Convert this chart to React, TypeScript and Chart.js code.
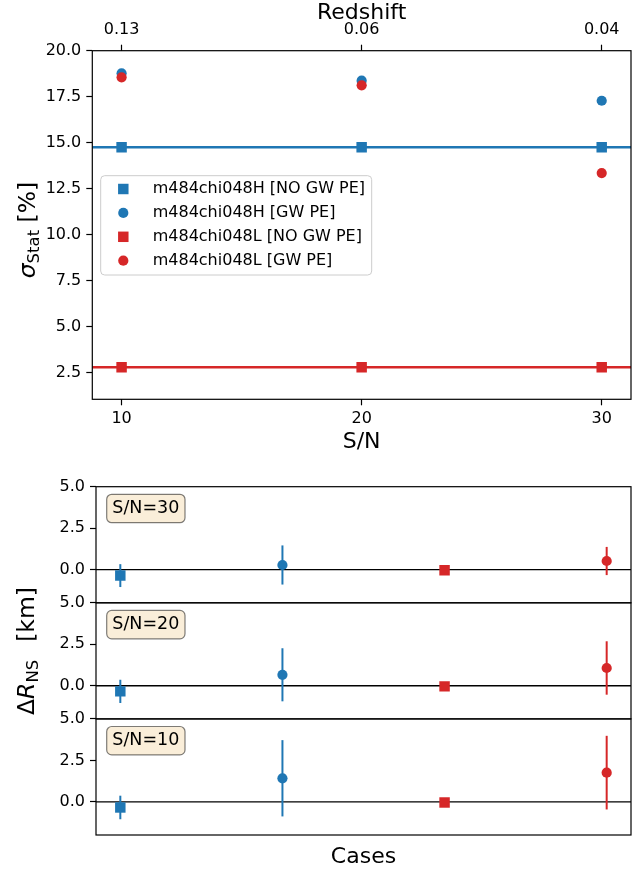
import React, { useEffect, useRef } from 'react';
import { Chart, registerables } from 'chart.js';

Chart.register(...registerables);

const FONT = "'DejaVu Sans', sans-serif";
const BLUE = '#1f77b4';
const RED = '#d62728';

// ---------- top panel data ----------
const snrValues = [10, 20, 30];
const redshiftLabels = ['0.13', '0.06', '0.04'];
const sigmaTicks = [2.5, 5, 7.5, 10, 12.5, 15, 17.5, 20];
const seriesNames = [
  'm484chi048H [NO GW PE]',
  'm484chi048H [GW PE]',
  'm484chi048L [NO GW PE]',
  'm484chi048L [GW PE]',
];
const sigmaHNoGw = [14.75, 14.75, 14.75];
const sigmaHGw = [18.77, 18.37, 17.28];
const sigmaLNoGw = [2.79, 2.79, 2.79];
const sigmaLGw = [18.55, 18.12, 13.35];

// ---------- bottom panels data ----------
const caseIndex = [0, 1, 2, 3];
const panelSnr = [30, 20, 10];
const deltaR30 = [-0.36, 0.28, -0.04, 0.52];
const deltaR30Err = [0.69, 1.18, 0.05, 0.85];
const deltaR20 = [-0.34, 0.66, -0.04, 1.07];
const deltaR20Err = [0.7, 1.6, 0.05, 1.61];
const deltaR10 = [-0.34, 1.42, -0.04, 1.76];
const deltaR10Err = [0.71, 2.3, 0.05, 2.22];
const deltaTicks = [0, 2.5, 5];

// ---------- styles ----------
const seriesColors = [BLUE, BLUE, RED, RED];
const seriesShapes = ['rect', 'circle', 'rect', 'circle'];
const RECT_R = 7.4;
const CIRC_R = 5.1;
const radiusFor = (s: string) => (s === 'rect' ? RECT_R : CIRC_R);

Chart.defaults.font.family = FONT;
Chart.defaults.color = '#000';

const tickFont = { family: FONT, size: 16, lineHeight: 1.2 };
const titleFont = { family: FONT, size: 22, lineHeight: 1 };

const gridOpts = () => ({
  display: true,
  drawOnChartArea: false,
  drawTicks: true,
  tickLength: 6,
  tickWidth: 1.2,
  tickColor: '#000',
  color: '#000',
});

function drawMarker(ctx: CanvasRenderingContext2D, shape: string, x: number, y: number, color: string) {
  ctx.fillStyle = color;
  ctx.beginPath();
  if (shape === 'rect') {
    const s = Math.SQRT1_2 * RECT_R;
    ctx.rect(x - s, y - s, 2 * s, 2 * s);
  } else {
    ctx.arc(x, y, CIRC_R, 0, Math.PI * 2);
  }
  ctx.fill();
}

type Part = { text: string; font: string; shift?: number; gap?: number };
function drawRotated(ctx: CanvasRenderingContext2D, parts: Part[], xBase: number, yCenter: number) {
  ctx.save();
  const widths = parts.map((p) => {
    ctx.font = p.font;
    return ctx.measureText(p.text).width;
  });
  const total = widths.reduce((a, w, i) => a + w + (i < parts.length - 1 ? parts[i].gap || 0 : 0), 0);
  ctx.translate(xBase, yCenter);
  ctx.rotate(-Math.PI / 2);
  ctx.fillStyle = '#000';
  ctx.textAlign = 'left';
  ctx.textBaseline = 'alphabetic';
  let cx = -total / 2;
  parts.forEach((p, i) => {
    ctx.font = p.font;
    ctx.fillText(p.text, cx, p.shift || 0);
    cx += widths[i] + (p.gap || 0);
  });
  ctx.restore();
}

const framePlugin = {
  id: 'frame',
  afterDraw(chart: any) {
    const { ctx, chartArea: a } = chart;
    ctx.save();
    ctx.strokeStyle = '#000';
    ctx.lineWidth = 1.2;
    ctx.strokeRect(a.left, a.top, a.right - a.left, a.bottom - a.top);
    ctx.restore();
  },
};

const levelLinesPlugin = {
  id: 'levelLines',
  beforeDatasetsDraw(chart: any) {
    const { ctx, chartArea: a, scales } = chart;
    const levels = [
      { v: sigmaHNoGw[0], c: BLUE },
      { v: sigmaLNoGw[0], c: RED },
    ];
    ctx.save();
    levels.forEach((l) => {
      const y = scales.y.getPixelForValue(l.v);
      ctx.strokeStyle = l.c;
      ctx.lineWidth = 2.6;
      ctx.beginPath();
      ctx.moveTo(a.left, y);
      ctx.lineTo(a.right, y);
      ctx.stroke();
    });
    ctx.restore();
  },
};

const boxLegendPlugin = {
  id: 'boxLegend',
  afterDatasetsDraw(chart: any) {
    const ctx: CanvasRenderingContext2D = chart.ctx;
    const x0 = 100.7, y0 = 175.7, w = 271, h = 99.3;
    ctx.save();
    ctx.beginPath();
    ctx.roundRect(x0, y0, w, h, 4);
    ctx.fillStyle = 'rgba(255,255,255,0.8)';
    ctx.fill();
    ctx.strokeStyle = '#cccccc';
    ctx.lineWidth = 1;
    ctx.stroke();
    ctx.font = `16px ${FONT}`;
    ctx.textBaseline = 'middle';
    ctx.textAlign = 'left';
    chart.data.datasets.forEach((ds: any, i: number) => {
      const cy = y0 + 13.3 + i * 23.9;
      drawMarker(ctx, seriesShapes[i], 123.3, cy, seriesColors[i]);
      ctx.fillStyle = '#000';
      ctx.fillText(ds.label, 152.7, cy);
    });
    ctx.restore();
  },
};

const topYLabelPlugin = {
  id: 'topYLabel',
  afterDraw(chart: any) {
    drawRotated(
      chart.ctx,
      [
        { text: 'σ', font: `italic 23.5px ${FONT}` },
        { text: 'Stat', font: `16.5px ${FONT}`, shift: 3.8, gap: 0 },
        { text: ' [%]', font: `23.5px ${FONT}` },
      ],
      35,
      230
    );
  },
};

const bottomYLabelPlugin = {
  id: 'bottomYLabel',
  afterDraw(chart: any) {
    // drawn in canvas coordinates of the middle panel (canvas top = 570)
    drawRotated(
      chart.ctx,
      [
        { text: 'Δ', font: `23.5px ${FONT}` },
        { text: 'R', font: `italic 23.5px ${FONT}` },
        { text: 'NS', font: `16.5px ${FONT}`, shift: 3.8, gap: 18 },
        { text: '[km]', font: `23.5px ${FONT}` },
      ],
      34,
      651 - 570
    );
  },
};

const zeroLinePlugin = {
  id: 'zeroLine',
  beforeDatasetsDraw(chart: any) {
    const { ctx, chartArea: a, scales } = chart;
    const y = scales.y.getPixelForValue(0);
    ctx.save();
    ctx.strokeStyle = '#000';
    ctx.lineWidth = 1.3;
    ctx.beginPath();
    ctx.moveTo(a.left, y);
    ctx.lineTo(a.right, y);
    ctx.stroke();
    ctx.restore();
  },
};

const errorBarPlugin = {
  id: 'errorBars',
  beforeDatasetsDraw(chart: any) {
    const { ctx, scales } = chart;
    ctx.save();
    ctx.lineWidth = 2;
    chart.data.datasets.forEach((ds: any) => {
      ds.data.forEach((p: any, i: number) => {
        const e = ds.errors[i];
        const x = scales.x.getPixelForValue(p.x);
        ctx.strokeStyle = seriesColors[i];
        ctx.beginPath();
        ctx.moveTo(x, scales.y.getPixelForValue(p.y - e));
        ctx.lineTo(x, scales.y.getPixelForValue(p.y + e));
        ctx.stroke();
      });
    });
    ctx.restore();
  },
};

function snrBoxPlugin(snr: number) {
  return {
    id: 'snrBox',
    afterDatasetsDraw(chart: any) {
      const { ctx, chartArea: a } = chart;
      const x = a.left + 10.7, y = a.top + 7.6, w = 78.3, h = 28.4;
      ctx.save();
      ctx.beginPath();
      ctx.roundRect(x, y, w, h, 5);
      ctx.fillStyle = 'rgba(245,222,179,0.5)';
      ctx.fill();
      ctx.strokeStyle = 'rgba(0,0,0,0.5)';
      ctx.lineWidth = 1.2;
      ctx.stroke();
      ctx.fillStyle = '#000';
      ctx.font = `17.5px ${FONT}`;
      ctx.textAlign = 'center';
      ctx.textBaseline = 'middle';
      ctx.fillText(`S/N=${snr}`, x + w / 2, y + h / 2);
      ctx.restore();
    },
  };
}

function buildTop(canvas: HTMLCanvasElement) {
  const series = [sigmaHNoGw, sigmaHGw, sigmaLNoGw, sigmaLGw];
  const orders = [3, 2, 1, 0];
  const xRange = { min: 8.78, max: 31.22 };
  return new Chart(canvas, {
    type: 'scatter',
    data: {
      datasets: series.map((vals, i) => ({
        label: seriesNames[i],
        data: snrValues.map((x, j) => ({ x, y: vals[j] })),
        pointStyle: seriesShapes[i] as any,
        pointRadius: radiusFor(seriesShapes[i]),
        pointHoverRadius: radiusFor(seriesShapes[i]),
        backgroundColor: seriesColors[i],
        borderColor: seriesColors[i],
        borderWidth: 0,
        order: orders[i],
      })),
    },
    options: {
      animation: false,
      responsive: false,
      maintainAspectRatio: false,
      events: [],
      layout: { padding: { left: 0, right: 11, top: 0, bottom: 0 }, autoPadding: false },
      plugins: { legend: { display: false }, tooltip: { enabled: false } },
      scales: {
        x: {
          type: 'linear',
          position: 'bottom',
          ...xRange,
          afterBuildTicks: (s: any) => {
            s.ticks = snrValues.map((v) => ({ value: v }));
          },
          afterFit: (s: any) => {
            s.height = 60.7;
            s.paddingLeft = 0;
            s.paddingRight = 0;
          },
          grid: gridOpts(),
          border: { display: false },
          ticks: { font: tickFont, color: '#000', padding: 4, maxRotation: 0, autoSkip: false, callback: (v: any) => String(v) },
          title: { display: true, text: 'S/N', font: titleFont, color: '#000', padding: { top: 0, bottom: 6.7 } },
        },
        x2: {
          type: 'linear',
          position: 'top',
          ...xRange,
          afterBuildTicks: (s: any) => {
            s.ticks = snrValues.map((v) => ({ value: v }));
          },
          afterFit: (s: any) => {
            s.height = 50.7;
            s.paddingLeft = 0;
            s.paddingRight = 0;
          },
          grid: gridOpts(),
          border: { display: false },
          ticks: {
            font: tickFont,
            color: '#000',
            padding: 5,
            maxRotation: 0,
            autoSkip: false,
            callback: (v: any) => redshiftLabels[snrValues.indexOf(Number(v))],
          },
          title: { display: true, text: 'Redshift', font: titleFont, color: '#000', padding: { top: 2, bottom: 0 } },
        },
        y: {
          type: 'linear',
          position: 'left',
          min: 1.05,
          max: 20,
          afterBuildTicks: (s: any) => {
            s.ticks = sigmaTicks.map((v) => ({ value: v }));
          },
          afterFit: (s: any) => {
            s.width = 92.3;
            s.paddingTop = 0;
            s.paddingBottom = 0;
          },
          grid: gridOpts(),
          border: { display: false },
          ticks: { font: tickFont, color: '#000', padding: 5, autoSkip: false, callback: (v: any) => Number(v).toFixed(1) },
        },
      },
    } as any,
    plugins: [levelLinesPlugin, boxLegendPlugin, topYLabelPlugin, framePlugin],
  });
}

const PANEL_TOP0 = 486.7;
const PANEL_H = 116.1;
const canvasTops = [470, 570, 702];
const canvasHeights = [136, 152, 170];

function buildPanel(canvas: HTMLCanvasElement, idx: number, vals: number[], errs: number[], snr: number) {
  const isLast = idx === 2;
  const padTop = PANEL_TOP0 + idx * PANEL_H - canvasTops[idx];
  const padBottom = isLast ? 0 : canvasHeights[idx] - padTop - PANEL_H;
  const xAxisH = canvasHeights[idx] - padTop - PANEL_H;
  const plugins: any[] = [zeroLinePlugin, errorBarPlugin, snrBoxPlugin(snr), framePlugin];
  if (idx === 1) plugins.push(bottomYLabelPlugin);
  const xScale: any = {
    type: 'linear',
    position: 'bottom',
    min: -0.15,
    max: 3.15,
    display: isLast,
    grid: { display: false },
    border: { display: false },
    ticks: { display: false },
    title: { display: isLast, text: 'Cases', font: titleFont, color: '#000', padding: { top: 0, bottom: 3.7 } },
  };
  if (isLast) {
    xScale.afterFit = (s: any) => {
      s.height = xAxisH;
      s.paddingLeft = 0;
      s.paddingRight = 0;
    };
  }
  return new Chart(canvas, {
    type: 'scatter',
    data: {
      datasets: [
        {
          data: caseIndex.map((c, i) => ({ x: c, y: vals[i] })),
          errors: errs,
          pointStyle: seriesShapes as any,
          pointRadius: seriesShapes.map(radiusFor),
          pointHoverRadius: seriesShapes.map(radiusFor),
          backgroundColor: seriesColors,
          borderColor: seriesColors,
          borderWidth: 0,
        } as any,
      ],
    },
    options: {
      animation: false,
      responsive: false,
      maintainAspectRatio: false,
      events: [],
      layout: { padding: { left: 0, right: 11, top: padTop, bottom: padBottom }, autoPadding: false },
      plugins: { legend: { display: false }, tooltip: { enabled: false } },
      scales: {
        x: xScale,
        y: {
          type: 'linear',
          position: 'left',
          min: -2,
          max: 5,
          afterBuildTicks: (s: any) => {
            s.ticks = deltaTicks.map((v) => ({ value: v }));
          },
          afterFit: (s: any) => {
            s.width = 96;
            s.paddingTop = 0;
            s.paddingBottom = 0;
          },
          grid: gridOpts(),
          border: { display: false },
          ticks: { font: tickFont, color: '#000', padding: 5, autoSkip: false, callback: (v: any) => Number(v).toFixed(1) },
        },
      },
    } as any,
    plugins,
  });
}

export default function App() {
  const topRef = useRef<HTMLCanvasElement>(null);
  const p0 = useRef<HTMLCanvasElement>(null);
  const p1 = useRef<HTMLCanvasElement>(null);
  const p2 = useRef<HTMLCanvasElement>(null);

  useEffect(() => {
    const charts: Chart[] = [];
    charts.push(buildTop(topRef.current!));
    const vals = [deltaR30, deltaR20, deltaR10];
    const errs = [deltaR30Err, deltaR20Err, deltaR10Err];
    [p0, p1, p2].forEach((r, i) => {
      charts.push(buildPanel(r.current!, i, vals[i], errs[i], panelSnr[i]));
    });
    return () => charts.forEach((c) => c.destroy());
  }, []);

  const cv = (top: number, h: number): React.CSSProperties => ({
    position: 'absolute',
    left: 0,
    top,
    width: 642,
    height: h,
    display: 'block',
  });

  return (
    <div style={{ position: 'absolute', left: 0, top: 0, width: 642, height: 872, overflow: 'hidden', background: '#fff' }}>
      <canvas ref={topRef} width={642} height={460} style={cv(0, 460)} />
      <canvas ref={p0} width={642} height={canvasHeights[0]} style={cv(canvasTops[0], canvasHeights[0])} />
      <canvas ref={p1} width={642} height={canvasHeights[1]} style={cv(canvasTops[1], canvasHeights[1])} />
      <canvas ref={p2} width={642} height={canvasHeights[2]} style={cv(canvasTops[2], canvasHeights[2])} />
    </div>
  );
}
